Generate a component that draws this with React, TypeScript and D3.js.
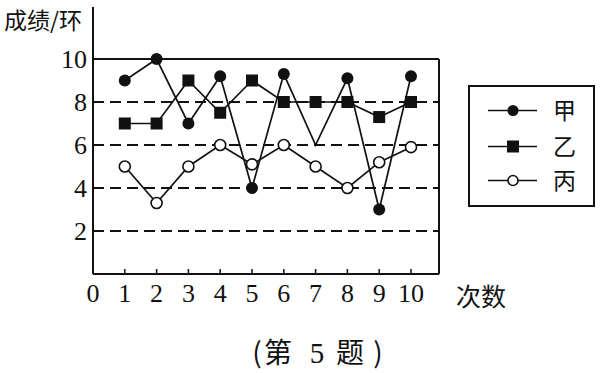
import React from "react";
import * as d3 from "d3";

const rounds = [1, 2, 3, 4, 5, 6, 7, 8, 9, 10];
const jia = [9, 10, 7, 9.2, 4, 9.3, 6, 9.1, 3, 9.2];
const yi = [7, 7, 9, 7.5, 9, 8, 8, 8, 7.3, 8];
const bing = [5, 3.3, 5, 6, 5.1, 6, 5, 4, 5.2, 5.9];
const xTicks = [0, 1, 2, 3, 4, 5, 6, 7, 8, 9, 10];
const yTicks = [2, 4, 6, 8, 10];
const seriesNames = ["甲", "乙", "丙"];
// the original figure leaves the 甲 marker off at round 7
const jiaNoMarker = [7];

const W = 601, H = 373;
const x = d3.scaleLinear().domain([0, 10]).range([93, 411]);
const y = d3.scaleLinear().domain([0, 10]).range([274, 59]);
const xRight = x(10.88);
const serif = "'Liberation Serif', 'DejaVu Serif', serif";
const cjk = "'Noto Sans CJK SC', sans-serif";

export default function App() {
  const line = d3.line<[number, number]>().x(d => x(d[0])).y(d => y(d[1]));
  const pts = (arr: number[]) => rounds.map((r, i) => [r, arr[i]] as [number, number]);
  const col = "#111";
  const legendRows = [110.5, 146.5, 180.5];
  const caption = [
    { t: "(", cx: 257 },
    { t: "第", cx: 278 },
    { t: "5", cx: 317 },
    { t: "题", cx: 350 },
    { t: ")", cx: 378 },
  ];
  return (
    <svg width={W} height={H} style={{ position: "absolute", left: 0, top: 0, background: "#fff" }}>
      <rect x={0} y={0} width={W} height={H} fill="#fff" />
      {yTicks.filter(t => t < 10).map(t => (
        <line key={t} x1={x(0)} x2={xRight} y1={y(t)} y2={y(t)} stroke={col} strokeWidth={1.8} strokeDasharray="11,6" />
      ))}
      <line x1={x(0)} x2={xRight} y1={y(10)} y2={y(10)} stroke={col} strokeWidth={1.8} />
      <line x1={xRight} x2={xRight} y1={y(10)} y2={y(0)} stroke={col} strokeWidth={2} />
      <line x1={x(0)} x2={x(0)} y1={7} y2={y(0)} stroke={col} strokeWidth={2} />
      <line x1={x(0)} x2={xRight} y1={y(0)} y2={y(0)} stroke={col} strokeWidth={2} />
      {rounds.map(r => (
        <line key={r} x1={x(r)} x2={x(r)} y1={y(0)} y2={y(0) - 5} stroke={col} strokeWidth={1.5} />
      ))}
      {yTicks.map(t => (
        <text key={t} x={87} y={y(t) + 8.5} textAnchor="end" fontFamily={serif} fontSize={26} fill={col}>{t}</text>
      ))}
      {xTicks.map(t => (
        <text key={t} x={x(t)} y={302} textAnchor="middle" fontFamily={serif} fontSize={26} fill={col}>{t}</text>
      ))}
      <text x={4} y={29} fontFamily={cjk} fontSize={23} fill={col}>成绩/环</text>
      <text x={456} y={306} fontFamily={cjk} fontSize={25} fill={col}>次数</text>
      {caption.map((c, i) => (
        <text key={i} x={c.cx} y={363} textAnchor="middle" fontFamily={c.t === "5" ? serif : cjk} fontSize={c.t === "5" ? 29 : 28} fill={col}>{c.t}</text>
      ))}
      <path d={line(pts(bing)) || ""} fill="none" stroke={col} strokeWidth={1.7} />
      <path d={line(pts(yi)) || ""} fill="none" stroke={col} strokeWidth={1.7} />
      <path d={line(pts(jia)) || ""} fill="none" stroke={col} strokeWidth={1.7} />
      {pts(bing).map((p, i) => (
        <circle key={"b" + i} cx={x(p[0])} cy={y(p[1])} r={5.5} fill="#fff" stroke={col} strokeWidth={1.6} />
      ))}
      {pts(yi).map((p, i) => (
        <rect key={"y" + i} x={x(p[0]) - 6} y={y(p[1]) - 6} width={12} height={12} fill={col} />
      ))}
      {pts(jia).filter(p => !jiaNoMarker.includes(p[0])).map((p, i) => (
        <circle key={"j" + i} cx={x(p[0])} cy={y(p[1])} r={6} fill={col} />
      ))}
      <rect x={469} y={86} width={125} height={120} fill="none" stroke={col} strokeWidth={2} />
      {seriesNames.map((n, i) => (
        <g key={n}>
          <line x1={488} x2={537} y1={legendRows[i]} y2={legendRows[i]} stroke={col} strokeWidth={1.6} />
          {i === 0 && <circle cx={513} cy={legendRows[i]} r={5.5} fill={col} />}
          {i === 1 && <rect x={507} y={legendRows[i] - 6} width={12} height={12} fill={col} />}
          {i === 2 && <circle cx={513} cy={legendRows[i]} r={5} fill="#fff" stroke={col} strokeWidth={1.6} />}
          <text x={553} y={legendRows[i] + 8} fontFamily={cjk} fontSize={23} fill={col}>{n}</text>
        </g>
      ))}
    </svg>
  );
}
